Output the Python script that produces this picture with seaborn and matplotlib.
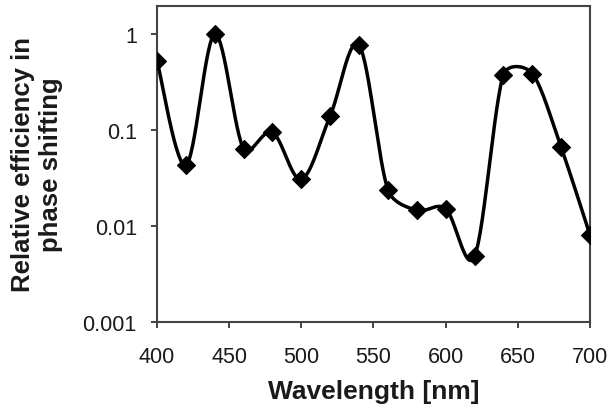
import numpy as np
import pandas as pd
import seaborn as sns
import matplotlib.pyplot as plt

# values
wavelength = [400, 420, 440, 460, 480, 500, 520, 540, 560, 580, 600, 620, 640, 660, 680, 700]
efficiency = [0.53, 0.043, 1.0, 0.064, 0.095, 0.0306, 0.141, 0.77, 0.0238, 0.0145,
              0.0151, 0.0048, 0.38, 0.39, 0.066, 0.0080]
x_ticks = [400, 450, 500, 550, 600, 650, 700]
y_ticks = [0.001, 0.01, 0.1, 1]
y_ticklabels = ["0.001", "0.01", "0.1", "1"]

# approx. screen scale of the axes, used so the smoothing behaves like a spreadsheet
PX_PER_NM = 433 / 300
PX_PER_DECADE = 95.5


def smooth_curve(x, y, n=30, clamp=0.4):
    # bezier "smoothed line": tangents (P[i+1]-P[i-1])/6, limited on short segments
    px = np.asarray(x, float) * PX_PER_NM
    py = np.log10(np.asarray(y, float)) * PX_PER_DECADE
    P = np.column_stack([px, py])
    m = len(P)
    tang = np.zeros_like(P)
    for i in range(m):
        a = P[max(i - 1, 0)]
        b = P[min(i + 1, m - 1)]
        tang[i] = (b - a) / 6
    t = np.linspace(0, 1, n, endpoint=False)[:, None]
    pts = []
    for i in range(m - 1):
        p0, p3 = P[i], P[i + 1]
        seg = np.linalg.norm(p3 - p0)
        v0, v1 = tang[i].copy(), tang[i + 1].copy()
        for v in (v0, v1):
            L = np.linalg.norm(v)
            if L > clamp * seg:
                v *= clamp * seg / L
        p1, p2 = p0 + v0, p3 - v1
        pts.append((1 - t) ** 3 * p0 + 3 * (1 - t) ** 2 * t * p1
                   + 3 * (1 - t) * t ** 2 * p2 + t ** 3 * p3)
    pts.append(P[-1:])
    pts = np.vstack(pts)
    return pts[:, 0] / PX_PER_NM, 10 ** (pts[:, 1] / PX_PER_DECADE)


df = pd.DataFrame({"wavelength": wavelength, "efficiency": efficiency})
cx, cy = smooth_curve(wavelength, efficiency)
curve = pd.DataFrame({"wavelength": cx, "efficiency": cy})

sns.set_style("ticks")
plt.rcParams["font.family"] = ["Liberation Sans", "DejaVu Sans"]

fig = plt.figure(figsize=(6.14, 4.14), dpi=100)
ax = fig.add_axes([0.2557, 0.221, 0.7052, 0.761])

sns.lineplot(data=curve, x="wavelength", y="efficiency", ax=ax,
             color="black", linewidth=2.5, sort=False)
sns.scatterplot(data=df, x="wavelength", y="efficiency", ax=ax,
                marker="D", s=85, color="black", edgecolor="black", zorder=3)

ax.set_yscale("log")
ax.set_xlim(400, 700)
ax.set_ylim(0.001, 1.96)
ax.set_xticks(x_ticks)
ax.set_yticks(y_ticks)
ax.set_yticklabels(y_ticklabels)
ax.minorticks_off()
ax.tick_params(labelsize=15.5, length=4.5, width=1.4, color="#444444", labelcolor="#1a1a1a")
ax.tick_params(axis="x", pad=13)
ax.tick_params(axis="y", pad=10)
for s in ax.spines.values():
    s.set_linewidth(1.5)
    s.set_color("#444444")

ax.set_xlabel("Wavelength [nm]", fontsize=19, fontweight="bold", labelpad=9, color="#1a1a1a")
ax.set_ylabel("Relative efficiency in\nphase shifting", fontsize=18.5,
              fontweight="bold", labelpad=14, linespacing=1.2, color="#1a1a1a")

fig.savefig("out.png", dpi=100)
